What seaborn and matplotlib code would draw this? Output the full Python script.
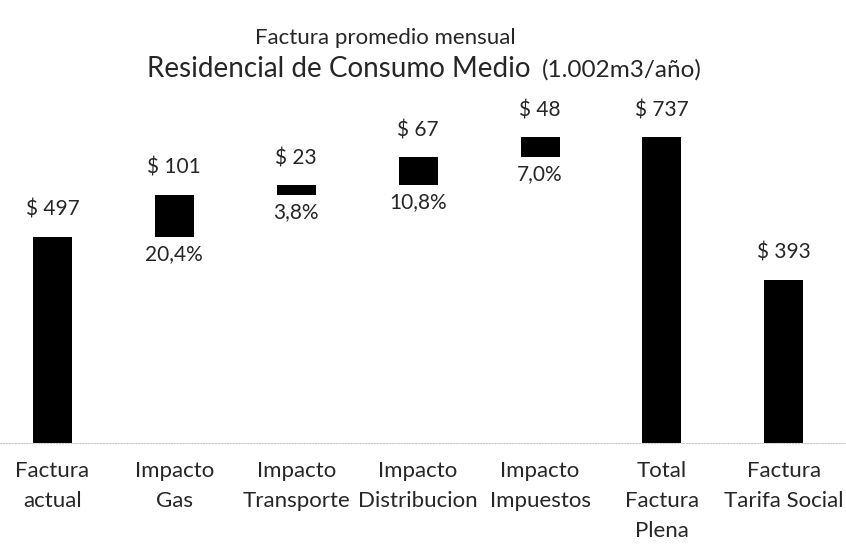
import numpy as np
import pandas as pd
import matplotlib
matplotlib.use("Agg")
import matplotlib.pyplot as plt
import seaborn as sns

categories = ["Factura\nactual", "Impacto\nGas", "Impacto\nTransporte", "Impacto\nDistribucion",
              "Impacto\nImpuestos", "Total\nFactura\nPlena", "Factura\nTarifa Social"]
values = [497, 101, 23, 67, 48, 737, 393]
is_total = [True, False, False, False, False, True, True]
pct_labels = ["", "20,4%", "3,8%", "10,8%", "7,0%", "", ""]

# waterfall: floating bars start where the previous step ended
bases = []
running = 0
for v, tot in zip(values, is_total):
    if tot:
        bases.append(0)
        running = v
    else:
        bases.append(running)
        running += v
tops = [b + v for b, v in zip(bases, values)]

df = pd.DataFrame({"cat": categories, "top": tops, "base": bases})

sns.set_style("white")
plt.rcParams["font.family"] = ["Lato", "DejaVu Sans"]

fig = plt.figure(figsize=(8.46, 5.45), dpi=100)
# baseline at ~443px from top
ax = fig.add_axes([0, 102 / 545, 1, 328 / 545])

sns.barplot(data=df, x="cat", y="top", color="black", width=0.32, linewidth=0, saturation=1, ax=ax)
sns.barplot(data=df, x="cat", y="base", color="white", width=0.32, linewidth=0, saturation=1, ax=ax)

ax.set_ylim(0, 790)
ax.set_xlim(-0.43, 6.51)
ax.set_xlabel("")
ax.set_ylabel("")
ax.set_yticks([])
for s in ["top", "left", "right"]:
    ax.spines[s].set_visible(False)
ax.spines["bottom"].set_color("#c8c8c8")
ax.spines["bottom"].set_linestyle(":")
ax.spines["bottom"].set_linewidth(0.8)
ax.tick_params(axis="x", length=0, pad=13, labelsize=16)
for t in ax.get_xticklabels():
    t.set_linespacing(1.62)
    t.set_va("top")

for i, (b, tp, v, p) in enumerate(zip(bases, tops, values, pct_labels)):
    ax.annotate(f"$ {v}", (i, tp), xytext=(0, 15), textcoords="offset points",
                ha="center", va="baseline", fontsize=15)
    if p:
        ax.annotate(p, (i, b), xytext=(0, -5), textcoords="offset points",
                    ha="center", va="top", fontsize=15)

fig.text(0.456, 1 - 38 / 545, "Factura promedio mensual", ha="center", va="center", fontsize=16)
fig.text(530 / 846, 1 - 77 / 545, "Residencial de Consumo Medio", ha="right", va="baseline", fontsize=20)
fig.text(542 / 846, 1 - 77 / 545, "(1.002m3/año)", ha="left", va="baseline", fontsize=17.5)

fig.savefig("out.png", dpi=100)
